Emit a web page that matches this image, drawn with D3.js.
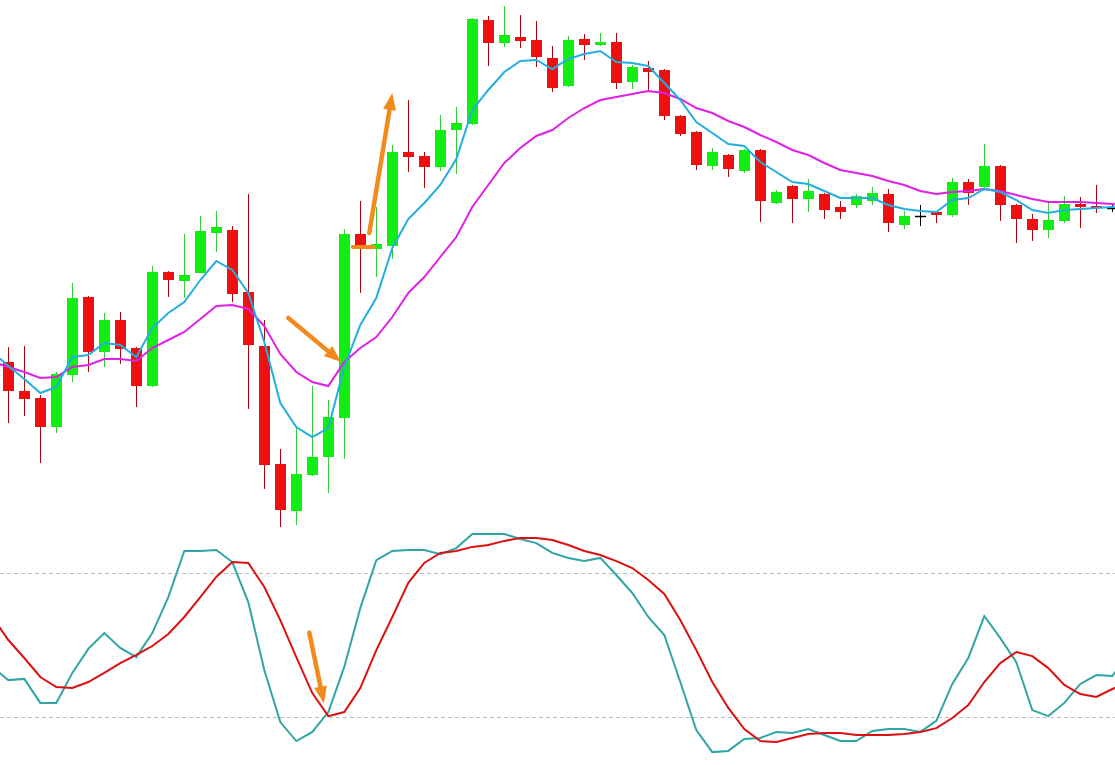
<!DOCTYPE html>
<html>
<head>
<meta charset="utf-8">
<script src="https://cdn.jsdelivr.net/npm/d3@7"></script>
<style>
  html, body { margin: 0; padding: 0; background: #fff; overflow: hidden; }
  svg { display: block; }
</style>
</head>
<body>
<div class="chart"></div>
<script>
var svgWidth = 1115;
var svgHeight = 765;

// candle data (one value per bar)
var opens = [1.3138,1.3109,1.3102,1.3073,1.3125,1.3203,1.3148,1.3180,1.3152,1.3114,
  1.3228,1.3219,1.3227,1.3267,1.3270,1.3208,1.3154,1.3036,1.2989,1.3025,
  1.3043,1.3082,1.3266,1.3251,1.3254,1.3348,1.3344,1.3333,1.3370,1.3376,
  1.3480,1.3457,1.3463,1.3460,1.3442,1.3414,1.3461,1.3455,1.3458,1.3418,
  1.3432,1.3430,1.3384,1.3368,1.3334,1.3345,1.3329,1.3350,1.3297,1.3314,
  1.3301,1.3306,1.3293,1.3295,1.3299,1.3306,1.3275,1.3284,1.3288,1.3285,
  1.3318,1.3313,1.3334,1.3295,1.3281,1.3270,1.3279,1.3296,1.3294,1.3292];
var highs = [1.3153,1.3154,1.3105,1.3128,1.3217,1.3204,1.3187,1.3188,1.3153,1.3234,
  1.3229,1.3266,1.3284,1.3289,1.3274,1.3306,1.3180,1.3051,1.3073,1.3114,
  1.3100,1.3271,1.3299,1.3293,1.3355,1.3400,1.3348,1.3385,1.3393,1.3482,
  1.3484,1.3494,1.3485,1.3479,1.3454,1.3464,1.3466,1.3467,1.3467,1.3435,
  1.3439,1.3431,1.3385,1.3369,1.3352,1.3346,1.3351,1.3351,1.3310,1.3315,
  1.3321,1.3307,1.3299,1.3306,1.3313,1.3311,1.3289,1.3295,1.3289,1.3322,
  1.3321,1.3356,1.3335,1.3296,1.3286,1.3297,1.3304,1.3303,1.3315,1.3295];
var lows = [1.3077,1.3084,1.3037,1.3067,1.3118,1.3128,1.3133,1.3136,1.3093,1.3113,
  1.3203,1.3202,1.3227,1.3248,1.3198,1.3091,1.3011,1.2973,1.2975,1.3024,
  1.3007,1.3041,1.3207,1.3223,1.3241,1.3328,1.3312,1.3329,1.3326,1.3375,
  1.3434,1.3453,1.3452,1.3433,1.3408,1.3413,1.3440,1.3454,1.3411,1.3411,
  1.3410,1.3380,1.3364,1.3330,1.3330,1.3323,1.3327,1.3278,1.3296,1.3277,
  1.3288,1.3281,1.3281,1.3292,1.3295,1.3268,1.3271,1.3274,1.3277,1.3283,
  1.3295,1.3312,1.3279,1.3257,1.3259,1.3262,1.3277,1.3272,1.3287,1.3288];
var closes = [1.3109,1.3101,1.3073,1.3126,1.3202,1.3148,1.3180,1.3151,1.3114,1.3228,
  1.3220,1.3225,1.3269,1.3273,1.3206,1.3155,1.3035,1.2990,1.3026,1.3043,
  1.3083,1.3266,1.3254,1.3256,1.3348,1.3343,1.3333,1.3370,1.3377,1.3481,
  1.3457,1.3465,1.3459,1.3443,1.3412,1.3460,1.3455,1.3458,1.3417,1.3433,
  1.3428,1.3384,1.3366,1.3335,1.3348,1.3331,1.3350,1.3299,1.3308,1.3301,
  1.3309,1.3290,1.3288,1.3304,1.3307,1.3277,1.3284,1.3284,1.3285,1.3318,
  1.3307,1.3334,1.3295,1.3281,1.3270,1.3280,1.3296,1.3293,1.3292,1.3292];

// indicator lines run from bar -1 to bar 70 (a bit past both edges)
var lineStart = -1;
var maFast = [1.3148,1.3134,1.3121,1.3107,1.3113,1.3143,1.3145,1.3157,1.3155,1.3143,
  1.3172,1.3187,1.3198,1.3220,1.3239,1.3230,1.3207,1.3158,1.3097,1.3073,
  1.3063,1.3072,1.3133,1.3175,1.3202,1.3252,1.3281,1.3297,1.3315,1.3341,
  1.3390,1.3410,1.3428,1.3439,1.3440,1.3431,1.3441,1.3446,1.3449,1.3438,
  1.3437,1.3434,1.3417,1.3400,1.3378,1.3367,1.3356,1.3354,1.3338,1.3328,
  1.3318,1.3316,1.3309,1.3302,1.3302,1.3302,1.3295,1.3291,1.3289,1.3288,
  1.3300,1.3302,1.3311,1.3308,1.3300,1.3290,1.3287,1.3290,1.3291,1.3292,
  1.3293,1.3294];
var maSlow = [1.3138,1.3133,1.3128,1.3122,1.3123,1.3133,1.3135,1.3141,1.3141,1.3139,
  1.3152,1.3160,1.3168,1.3181,1.3194,1.3195,1.3191,1.3174,1.3146,1.3128,
  1.3118,1.3114,1.3138,1.3152,1.3163,1.3183,1.3207,1.3223,1.3243,1.3263,
  1.3293,1.3315,1.3337,1.3352,1.3364,1.3370,1.3382,1.3392,1.3400,1.3403,
  1.3406,1.3409,1.3407,1.3401,1.3392,1.3387,1.3379,1.3373,1.3365,1.3358,
  1.3350,1.3345,1.3337,1.3330,1.3327,1.3324,1.3319,1.3315,1.3309,1.3306,
  1.3308,1.3309,1.3311,1.3309,1.3305,1.3301,1.3298,1.3298,1.3298,1.3297,
  1.3296,1.3295];
var stochMain = [41.0,35.5,36.0,26.0,26.0,38.5,48.5,55.1,48.9,45.1,
  55.1,70.1,89.3,89.3,89.7,84.7,68.0,39.7,18.0,10.1,
  13.9,22.2,41.0,65.5,85.5,89.3,89.7,89.7,88.0,90.5,
  96.4,96.4,96.4,94.3,92.6,88.5,86.4,85.1,86.4,79.3,
  71.8,61.8,54.3,34.7,14.7,5.5,6.0,11.0,11.4,13.9,
  13.5,15.1,12.6,10.1,10.1,14.3,15.1,15.1,13.9,18.5,
  33.9,44.7,62.2,53.0,43.0,23.0,20.5,26.0,33.9,37.6,
  37.2,46.0];
var stochSignal = [61.8,52.2,44.7,36.8,32.6,32.2,34.7,38.5,42.6,46.0,
  49.7,54.7,61.8,70.1,78.5,84.7,84.3,74.3,60.5,45.1,
  30.1,20.5,22.2,32.2,48.0,61.8,76.0,84.3,88.5,89.3,
  91.0,91.8,93.5,94.7,94.7,93.9,91.8,89.3,87.6,85.1,
  82.2,77.2,71.4,60.5,48.0,34.7,23.9,15.1,10.1,9.7,
  11.4,13.0,13.5,13.5,12.6,12.6,12.6,13.0,13.9,15.5,
  19.7,25.1,34.7,42.6,47.2,45.5,40.5,33.5,29.7,28.5,
  31.8,34.7];
var stochLevels = [80, 20];

// hand drawn orange arrows, in bar index / price (or stoch value)
var priceArrows = [
  {x1: 17.5, y1: 1.3182, x2: 20.8, y2: 1.3138},
  {x1: 22.56, y1: 1.3267, x2: 24.0, y2: 1.3407}
];
var priceMarks = [{x1: 21.53, x2: 22.81, y: 1.3253}];
var stochArrows = [{x1: 18.81, y1: 55.3, x2: 19.73, y2: 25.8}];

var svg = d3
  .select(".chart")
  .append("svg")
  .attr("width", svgWidth)
  .attr("height", svgHeight);

// scales
var xScale = d3.scaleLinear()
  .domain([0, 69])
  .range([8.3, 1112.3]);

var yPrice = d3.scaleLinear()
  .domain([1.2970, 1.3500])
  .range([530, 0]);

var yStoch = d3.scaleLinear()
  .domain([0, 100])
  .range([765.3, 525.3]);

var bodyWidth = 11;

var bars = opens.map(function(o, i) {
  return {i: i, open: o, high: highs[i], low: lows[i], close: closes[i]};
});

function barColor(d) {
  if (d.close > d.open) return "#12ee12";
  if (d.close < d.open) return "#ee1010";
  return "#000";
}
function wickColor(d) {
  if (d.close > d.open) return "#33cc33";
  if (d.close < d.open) return "#b00808";
  return "#000";
}

var mainGroup = svg.append("g");

// wicks
mainGroup.selectAll("line.wick")
  .data(bars)
  .enter()
  .append("line")
  .attr("class", "wick")
  .attr("x1", d => Math.round(xScale(d.i)) + 0.5)
  .attr("x2", d => Math.round(xScale(d.i)) + 0.5)
  .attr("y1", d => yPrice(d.high))
  .attr("y2", d => yPrice(d.low))
  .attr("stroke", wickColor)
  .attr("stroke-width", 1);

// bodies
mainGroup.selectAll("rect.body")
  .data(bars.filter(d => d.open !== d.close))
  .enter()
  .append("rect")
  .attr("class", "body")
  .attr("x", d => Math.round(xScale(d.i)) - 5)
  .attr("y", d => yPrice(Math.max(d.open, d.close)))
  .attr("width", bodyWidth)
  .attr("height", d => Math.abs(yPrice(d.open) - yPrice(d.close)))
  .attr("fill", barColor)
  .attr("shape-rendering", "crispEdges");

// doji bars are just a flat tick
mainGroup.selectAll("line.doji")
  .data(bars.filter(d => d.open === d.close))
  .enter()
  .append("line")
  .attr("class", "doji")
  .attr("x1", d => Math.round(xScale(d.i)) - 5)
  .attr("x2", d => Math.round(xScale(d.i)) + 6)
  .attr("y1", d => Math.round(yPrice(d.open)) + 0.5)
  .attr("y2", d => Math.round(yPrice(d.open)) + 0.5)
  .attr("stroke", "#000")
  .attr("stroke-width", 1.5);

// moving averages
var priceLine = d3.line()
  .x((d, j) => xScale(j + lineStart))
  .y(d => yPrice(d));

mainGroup.append("path")
  .datum(maSlow)
  .attr("d", priceLine)
  .attr("fill", "none")
  .attr("stroke", "#e020e6")
  .attr("stroke-width", 2);

mainGroup.append("path")
  .datum(maFast)
  .attr("d", priceLine)
  .attr("fill", "none")
  .attr("stroke", "#22aee0")
  .attr("stroke-width", 2);

// stochastic sub window
var stochGroup = svg.append("g");

stochGroup.selectAll("line.level")
  .data(stochLevels)
  .enter()
  .append("line")
  .attr("class", "level")
  .attr("x1", 0)
  .attr("x2", svgWidth)
  .attr("y1", d => Math.round(yStoch(d)) + 0.5)
  .attr("y2", d => Math.round(yStoch(d)) + 0.5)
  .attr("stroke", "#bdbdbd")
  .attr("stroke-width", 1)
  .attr("stroke-dasharray", "4,3");

var stochLine = d3.line()
  .x((d, j) => xScale(j + lineStart))
  .y(d => yStoch(d));

stochGroup.append("path")
  .datum(stochMain)
  .attr("d", stochLine)
  .attr("fill", "none")
  .attr("stroke", "#30a5a5")
  .attr("stroke-width", 2);

stochGroup.append("path")
  .datum(stochSignal)
  .attr("d", stochLine)
  .attr("fill", "none")
  .attr("stroke", "#dd1010")
  .attr("stroke-width", 2);

// orange annotations
var orange = "#f28a1c";

function drawArrow(g, x1, y1, x2, y2) {
  var ang = Math.atan2(y2 - y1, x2 - x1);
  var headLen = 17, headHalf = 6.5;
  var bx = x2 - headLen * Math.cos(ang);
  var by = y2 - headLen * Math.sin(ang);
  g.append("line")
    .attr("x1", x1).attr("y1", y1)
    .attr("x2", bx).attr("y2", by)
    .attr("stroke", orange)
    .attr("stroke-width", 4.5)
    .attr("stroke-linecap", "round");
  var pts = [
    [x2, y2],
    [bx + headHalf * Math.sin(ang), by - headHalf * Math.cos(ang)],
    [bx - headHalf * Math.sin(ang), by + headHalf * Math.cos(ang)]
  ];
  g.append("polygon")
    .attr("points", pts.map(p => p.join(",")).join(" "))
    .attr("fill", orange);
}

var noteGroup = svg.append("g");

priceArrows.forEach(function(a) {
  drawArrow(noteGroup, xScale(a.x1), yPrice(a.y1), xScale(a.x2), yPrice(a.y2));
});

stochArrows.forEach(function(a) {
  drawArrow(noteGroup, xScale(a.x1), yStoch(a.y1), xScale(a.x2), yStoch(a.y2));
});

noteGroup.selectAll("line.mark")
  .data(priceMarks)
  .enter()
  .append("line")
  .attr("class", "mark")
  .attr("x1", d => xScale(d.x1))
  .attr("x2", d => xScale(d.x2))
  .attr("y1", d => yPrice(d.y))
  .attr("y2", d => yPrice(d.y))
  .attr("stroke", orange)
  .attr("stroke-width", 4)
  .attr("stroke-linecap", "round");
</script>
</body>
</html>
